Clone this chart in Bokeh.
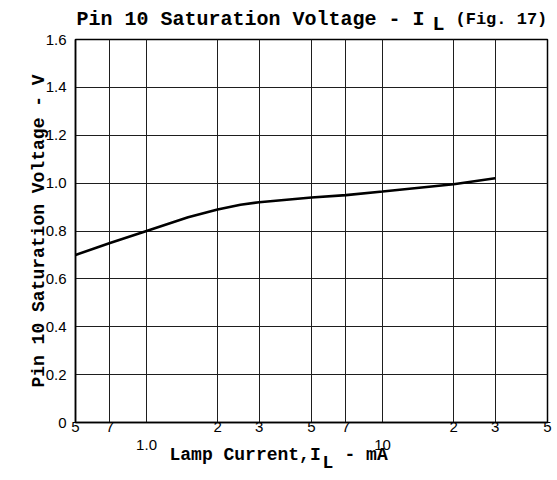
from bokeh.plotting import figure
from bokeh.models import FixedTicker, Range1d, LinearScale
from bokeh.layouts import column
from bokeh.core.properties import value
from bokeh.embed import file_html
from bokeh.resources import INLINE

# ---- data ----
current_mA = [0.5, 0.7, 1.0, 1.5, 2.0, 2.5, 3.0, 5.0, 7.0, 10.0, 20.0, 30.0]
vsat_V = [0.70, 0.75, 0.80, 0.857, 0.89, 0.91, 0.92, 0.94, 0.95, 0.965, 0.995, 1.02]

x_ticks = [0.5, 0.7, 1, 2, 3, 5, 7, 10, 20, 30, 50]
x_tick_labels = ["5", "7", "1.0", "2", "3", "5", "7", "10", "2", "3", "5"]
x_lowered = ["1.0", "10"]          # decade labels sit lower in the original
y_ticks = [0, 0.2, 0.4, 0.6, 0.8, 1.0, 1.2, 1.4, 1.6]
y_tick_labels = ["0", "0.2", "0.4", "0.6", "0.8", "1.0", "1.2", "1.4", "1.6"]

title_main = "Pin 10 Saturation Voltage - I"
title_sub = "L"
title_tail = "(Fig. 17)"
xlabel_main = "Lamp Current,I"
xlabel_sub = "L"
xlabel_tail = "- mA"
ylabel = "Pin 10 Saturation Voltage - V"

MONO = "Liberation Mono"
SANS = "Liberation Sans"
W = 557
FL, FW, FR = 75, 472, 10      # frame left border, frame width, right border

# ---------------- main chart ----------------
p = figure(x_axis_type="log", x_range=Range1d(0.5, 50), y_range=Range1d(0, 1.6),
           frame_width=FW, frame_height=383,
           min_border_left=FL, min_border_right=FR, min_border_top=7, min_border_bottom=10,
           output_backend="svg", toolbar_location=None, background_fill_color="white")

p.line(current_mA, vsat_V, line_color="black", line_width=2.6)

xt = FixedTicker(ticks=x_ticks, minor_ticks=[])
yt = FixedTicker(ticks=y_ticks, minor_ticks=[])
xa = p.xaxis[0]
ya = p.yaxis[0]
xa.ticker = xt
ya.ticker = yt
p.xgrid.ticker = xt
p.ygrid.ticker = yt
for g in (p.xgrid, p.ygrid):
    g.grid_line_color = "#1e1e1e"
    g.grid_line_width = 1

overrides = {}
lowered_x = []
for t, lab in zip(x_ticks, x_tick_labels):
    if lab in x_lowered:
        overrides[t] = ""
        lowered_x.append(t)
    else:
        overrides[t] = lab
xa.major_label_overrides = overrides
ya.major_label_overrides = {t: lab for t, lab in zip(y_ticks, y_tick_labels)}

for ax in (xa, ya):
    ax.major_tick_out = 0
    ax.major_tick_in = 0
    ax.minor_tick_out = 0
    ax.minor_tick_in = 0
    ax.axis_line_color = "black"
    ax.axis_line_width = 1.5
    ax.major_label_text_font = SANS
    ax.major_label_text_font_size = "15px"
    ax.major_label_text_color = "black"
xa.major_label_standoff = -1
ya.major_label_standoff = 9

ya.axis_label = ylabel
ya.axis_label_text_font = MONO
ya.axis_label_text_font_style = "bold"
ya.axis_label_text_font_size = "18px"
ya.axis_label_text_color = "black"
ya.axis_label_standoff = -6

p.outline_line_color = "black"
p.outline_line_width = 1.5

# ---------------- text strips (title above, lower tick labels + x title below) ----------------
def strip(h, **kw):
    f = figure(width=W, height=h, y_range=Range1d(h, 0), title=None,
               frame_width=FW, frame_height=h,
               min_border_left=FL, min_border_right=FR, min_border_top=0, min_border_bottom=0,
               x_axis_location=None, y_axis_location=None,
               output_backend="svg", toolbar_location=None, **kw)
    f.grid.visible = False
    f.outline_line_color = None
    return f

def put(f, text, x, y, size, **kw):
    f.text(x=[x], y=[y], text=[text], text_font=value(MONO), text_font_style="bold",
           text_font_size=size, text_baseline="alphabetic", text_align="left",
           text_color="black", **kw)

top = strip(32, x_range=Range1d(FL, FL + FW))
put(top, title_main, 76, 18.5, "20px")
put(top, title_sub, 432, 24, "20px")
put(top, title_tail, 455, 18.5, "17px")

bottom = strip(40, x_axis_type="log", x_range=p.x_range)
bottom.extra_x_ranges = {"px": Range1d(FL, FL + FW)}
bottom.extra_x_scales = {"px": LinearScale()}
bottom.text(x=lowered_x, y=[10] * len(lowered_x), text=x_lowered,
            text_font=value(SANS), text_font_size="15px", text_align="center",
            text_baseline="alphabetic", text_color="black")
put(bottom, xlabel_main, 169, 20, "18px", x_range_name="px")
put(bottom, xlabel_sub, 322, 28, "18px", x_range_name="px")
put(bottom, xlabel_tail, 344, 20, "18px", x_range_name="px")

layout = column(top, p, bottom, spacing=0)
open("out.html", "w").write(file_html(layout, INLINE))
